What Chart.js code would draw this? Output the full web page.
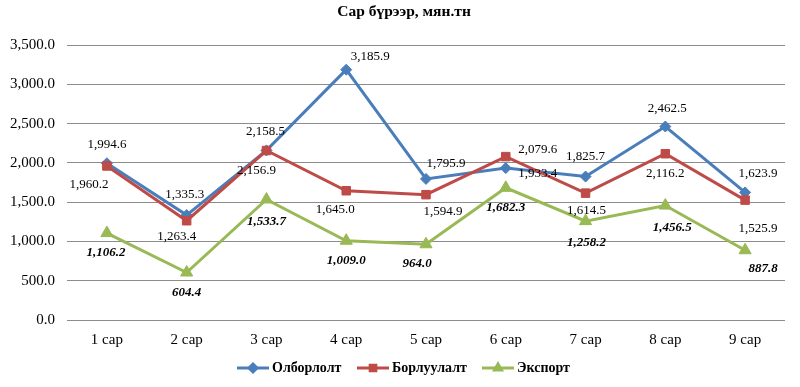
<!DOCTYPE html>
<html>
<head>
<meta charset="utf-8">
<script src="https://cdn.jsdelivr.net/npm/chart.js@4.4.1/dist/chart.umd.min.js"></script>
<style>
  html, body { margin: 0; padding: 0; background: #fff; }
  #wrap { width: 800px; height: 387px; position: relative; }
</style>
</head>
<body>
<div id="wrap"><canvas id="grafica" width="800" height="387"></canvas></div>
<script>
// өгөгдөл
const sarууд = ['1 сар', '2 сар', '3 сар', '4 сар', '5 сар', '6 сар', '7 сар', '8 сар', '9 сар'];
const olborlolt = [1994.6, 1335.3, 2158.5, 3185.9, 1795.9, 1933.4, 1825.7, 2462.5, 1623.9];
const borluulalt = [1960.2, 1263.4, 2156.9, 1645.0, 1594.9, 2079.6, 1614.5, 2116.2, 1525.9];
const eksport = [1106.2, 604.4, 1533.7, 1009.0, 964.0, 1682.3, 1258.2, 1456.5, 887.8];
const yTicks = [0, 500, 1000, 1500, 2000, 2500, 3000, 3500];

// шошгоны байрлал (цэгээс зөрүү, px)
const labelShift = [
  [[0,-19],[-2,-21],[-1,-19],[24,-13],[20,-15],[32,5],[0,-20],[2,-18],[13,-19]],
  [[-18,19],[-10,16],[-10,20],[-11,19],[17,17],[32,-7],[1,17],[0,20],[13,28]],
  [[-1,20],[0,20],[0,22],[0,20],[-9,19],[0,20],[1,21],[7,22],[18,18]]
];

const serif = '"Liberation Serif", "Times New Roman", serif';
const fmt = v => v.toLocaleString('en-US', {minimumFractionDigits: 1, maximumFractionDigits: 1});

const labelPlugin = {
  id: 'labels',
  afterDatasetsDraw(chart){
    const ctx = chart.ctx;
    ctx.save();
    ctx.textAlign = 'center';
    ctx.textBaseline = 'middle';
    ctx.fillStyle = '#000';
    chart.data.datasets.forEach((ds, i) => {
      const meta = chart.getDatasetMeta(i);
      ctx.font = (i === 2 ? 'italic bold ' : '') + '13px ' + serif;
      meta.data.forEach((pt, j) => {
        const s = labelShift[i][j];
        ctx.fillText(fmt(ds.data[j]), pt.x + s[0], pt.y + s[1]);
      });
    });
    // гарчиг
    ctx.font = 'bold 15.5px ' + serif;
    ctx.fillText('Сар бүрээр, мян.тн', 404, 12);
    // тайлбар
    const items = [[237, 'rectRot'], [357, 'rect'], [482, 'triangle']];
    items.forEach((it, i) => {
      const ds = chart.data.datasets[i];
      const y = 368;
      ctx.strokeStyle = ds.borderColor;
      ctx.lineWidth = 3;
      ctx.beginPath();
      ctx.moveTo(it[0], y);
      ctx.lineTo(it[0] + 32, y);
      ctx.stroke();
      Chart.helpers.drawPoint(ctx, {pointStyle: it[1], radius: 4, borderWidth: 1, rotation: 0}, it[0] + 16, y);
      ctx.fillStyle = ds.borderColor;
      ctx.fill();
      ctx.fillStyle = '#000';
      ctx.textAlign = 'left';
      ctx.font = 'bold 14px ' + serif;
      ctx.fillText(ds.label, it[0] + 35, y);
    });
    ctx.restore();
  }
};

new Chart(document.getElementById('grafica'), {
  type: 'line',
  data: {
    labels: sarууд,
    datasets: [
      { label: 'Олборлолт', data: olborlolt, borderColor: '#4a7ebb', backgroundColor: '#4a7ebb',
        pointStyle: 'rectRot', pointRadius: 5.5, order: 3 },
      { label: 'Борлуулалт', data: borluulalt, borderColor: '#be4b48', backgroundColor: '#be4b48',
        pointStyle: 'rect', pointRadius: 6, order: 2 },
      { label: 'Экспорт', data: eksport, borderColor: '#98b954', backgroundColor: '#98b954',
        pointStyle: 'triangle', pointRadius: 7, order: 1 }
    ].map(d => Object.assign(d, { borderWidth: 3, tension: 0, pointBorderWidth: 1, pointBorderColor: d.borderColor }))
  },
  options: {
    responsive: false,
    animation: false,
    devicePixelRatio: 1,
    layout: { padding: { left: 0, right: 15, top: 45, bottom: 0 } },
    plugins: { legend: { display: false }, tooltip: { enabled: false } },
    scales: {
      x: {
        offset: true,
        grid: { display: false },
        border: { display: false },
        ticks: { color: '#000', font: { family: serif, size: 15 }, padding: 3, maxRotation: 0, autoSkip: false },
        afterFit: s => { s.height = 67; }
      },
      y: {
        min: 0, max: 3500,
        afterBuildTicks: s => { s.ticks = yTicks.map(v => ({ value: v })); },
        grid: { color: '#8c8c8c', lineWidth: 1, drawTicks: false },
        border: { display: false },
        ticks: { color: '#000', font: { family: serif, size: 15 }, padding: 12, callback: v => fmt(v) },
        afterFit: s => { s.width = 67; }
      }
    }
  },
  plugins: [labelPlugin]
});
</script>
</body>
</html>
